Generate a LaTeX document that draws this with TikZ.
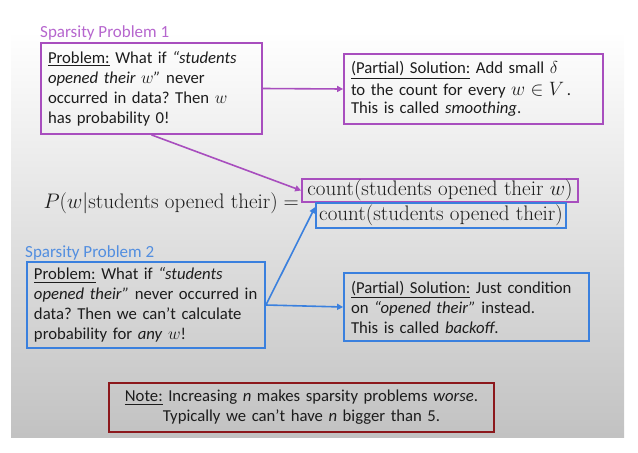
\documentclass[tikz,border=0pt]{standalone}
\usepackage{fontspec}
\usepackage{amsmath}
\newfontfamily\slidefont{Carlito}
\usetikzlibrary{arrows.meta}
\frenchspacing

\definecolor{violetline}{RGB}{168,78,190}
\definecolor{violettitle}{RGB}{182,102,206}
\definecolor{blueline}{RGB}{58,128,222}
\definecolor{bluetitle}{RGB}{82,142,224}
\definecolor{noteline}{RGB}{140,24,28}
\definecolor{ink}{RGB}{28,28,28}

% formula text: set at a size the math fonts have, then enlarged slightly
\newcommand{\eqtext}[1]{\scalebox{1.015}{#1}}

\begin{document}
\begin{tikzpicture}[x=1pt,y=-1pt,
  txt/.style={font=\slidefont\fontsize{16.7}{20}\selectfont, text=ink},
  title/.style={font=\slidefont\fontsize{17}{20}\selectfont, anchor=base west, inner sep=0pt},
  card/.style={txt, draw, line width=1.8pt, inner xsep=7pt, inner ysep=0pt, align=left},
  formula/.style={font=\fontsize{20.74}{25}\selectfont, text=ink},
  term/.style={formula, draw, line width=1.8pt, inner sep=0pt},
  link/.style={line width=1.6pt, -{Triangle[length=6pt,width=6pt]}}
]
\useasboundingbox (0,0) rectangle (638,453);

% slide background
\shade[top color=white, middle color=black!5, bottom color=black!24] (11,31) rectangle (624,437);

% sparsity problem 1
\node[title, text=violettitle] (t1) at (40,37) {Sparsity Problem 1};
\node[card, draw=violetline, text width=207pt, minimum height=91pt] (p1) at (151.5,88.5)
  {\underline{Problem:} What if \textit{“students}\\
   \textit{opened their $w$”} never\\
   occurred in data? Then $w$\\
   has probability 0!};
\node[card, draw=violetline, text width=245pt, minimum height=70pt] (s1) at (473.5,89)
  {\underline{(Partial) Solution:} Add small $\delta$\\[2pt]
   to the count for every \scalebox{1.12}{$w \in V$}\,.\\[-2pt]
   This is called \textit{smoothing}.};

% the conditional probability
\node[formula, anchor=east, inner sep=0pt] (lhs) at (299,203)
  {\eqtext{$P(w|\text{students opened their}) =$}};
\node[term, draw=violetline, minimum width=276pt, minimum height=23pt] (num) at (440,190.5)
  {\eqtext{count(students opened their $w$)}};
\node[term, draw=blueline, minimum width=250pt, minimum height=25pt] (den) at (441,215.5)
  {\eqtext{count(students opened their)}};

% sparsity problem 2
\node[title, text=bluetitle] (t2) at (25,257) {Sparsity Problem 2};
\node[card, draw=blueline, text width=224pt, minimum height=86pt] (p2) at (146,305)
  {\underline{Problem:} What if \textit{“students}\\
   \textit{opened their”} never occurred in\\
   data? Then we can’t calculate\\
   probability for \textit{any} $w$!};
\node[card, draw=blueline, text width=231pt, minimum height=68pt] (s2) at (466.5,307)
  {\underline{(Partial) Solution:} Just condition\\
   on \textit{“opened their”} instead.\\
   This is called \textit{backoff}.};

% note
\node[card, draw=noteline, align=center, text width=371pt, minimum height=49pt] (note) at (301.5,407.5)
  {\underline{Note:} Increasing \textit{n} makes sparsity problems \textit{worse}.\\
   Typically we can’t have \textit{n} bigger than 5.};

% connectors
\draw[link, violetline] (p1.east) -- (s1.west);
\draw[link, violetline] (p1.south) -- (num.west);
\draw[link, blueline] (p2.east) -- (s2.west);
\draw[link, blueline] (p2.east) -- ([yshift=-5pt]den.north west);
\end{tikzpicture}
\end{document}
